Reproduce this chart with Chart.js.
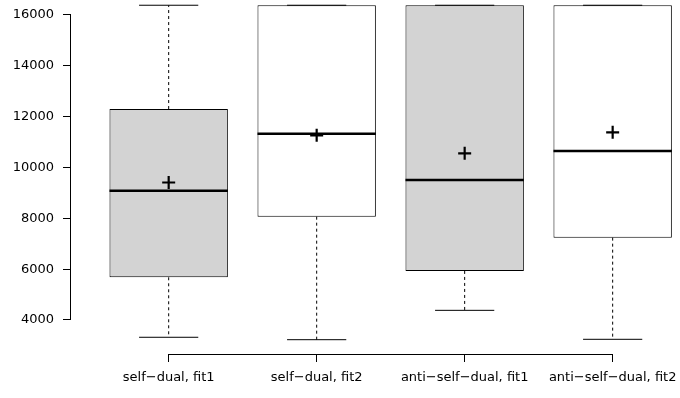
<!DOCTYPE html>
<html>
<head>
<meta charset="utf-8">
<script src="https://cdn.jsdelivr.net/npm/chart.js@4/dist/chart.umd.min.js"></script>
<style>
  html, body { margin: 0; padding: 0; background: #fff; }
  #wrap { width: 680px; height: 398px; }
</style>
</head>
<body>
<div id="wrap"><canvas id="c" width="680" height="398"></canvas></div>
<script>
// Groups and their five-number summaries plus means
const categories = ['self\u2212dual, fit1', 'self\u2212dual, fit2', 'anti\u2212self\u2212dual, fit1', 'anti\u2212self\u2212dual, fit2'];
const whiskerLow  = [3320, 3225, 4380, 3240];
const q1          = [5680, 8065, 5930, 7240];
const median      = [9087, 11330, 9508, 10649];
const q3          = [12300, 16384, 16384, 16384];
const whiskerHigh = [16384, 16384, 16384, 16384];
const means       = [9410, 11265, 10558, 11384];
const fills       = ['#d3d3d3', '#ffffff', '#d3d3d3', '#ffffff'];
const yTicks      = [4000, 6000, 8000, 10000, 12000, 14000, 16000];
const xTicks      = [1, 2, 3, 4];

const FONT = { family: '"DejaVu Sans", sans-serif', size: 13 };
const BOX_DATASET = 1;

// whiskers, staples and medians right after the boxes; mean crosses go on top
const boxExtras = {
  id: 'boxExtras',
  afterDatasetDraw(chart, args) {
    if (args.index !== BOX_DATASET) return;
    const ctx = chart.ctx;
    const xs = chart.scales.x, ys = chart.scales.y;
    const meta = args.meta;
    ctx.save();
    ctx.strokeStyle = '#000';
    categories.forEach((c, i) => {
      const bar = meta.data[i];
      const cx = xs.getPixelForValue(i + 1);
      const hw = bar.width / 2;
      const sw = hw / 2;
      // dashed whiskers
      ctx.lineWidth = 1;
      ctx.setLineDash([3, 3]);
      ctx.beginPath();
      ctx.moveTo(cx, ys.getPixelForValue(q3[i]));
      ctx.lineTo(cx, ys.getPixelForValue(whiskerHigh[i]));
      ctx.moveTo(cx, ys.getPixelForValue(q1[i]));
      ctx.lineTo(cx, ys.getPixelForValue(whiskerLow[i]));
      ctx.stroke();
      ctx.setLineDash([]);
      // staples
      ctx.beginPath();
      ctx.moveTo(cx - sw, ys.getPixelForValue(whiskerHigh[i]));
      ctx.lineTo(cx + sw, ys.getPixelForValue(whiskerHigh[i]));
      ctx.moveTo(cx - sw, ys.getPixelForValue(whiskerLow[i]));
      ctx.lineTo(cx + sw, ys.getPixelForValue(whiskerLow[i]));
      ctx.stroke();
      // median
      ctx.lineWidth = 2.6;
      ctx.beginPath();
      ctx.moveTo(cx - hw, ys.getPixelForValue(median[i]));
      ctx.lineTo(cx + hw, ys.getPixelForValue(median[i]));
      ctx.stroke();
    });
    ctx.restore();
  },
  // axis lines spanning only the ticked range
  afterDatasetsDraw(chart) {
    const ctx = chart.ctx;
    const xs = chart.scales.x, ys = chart.scales.y;
    const left = chart.chartArea.left, bottom = chart.chartArea.bottom;
    ctx.save();
    ctx.strokeStyle = '#000';
    ctx.lineWidth = 1;
    ctx.beginPath();
    ctx.moveTo(left - 0.5, ys.getPixelForValue(yTicks[0]));
    ctx.lineTo(left - 0.5, ys.getPixelForValue(yTicks[yTicks.length - 1]));
    ctx.moveTo(xs.getPixelForValue(xTicks[0]), bottom + 0.5);
    ctx.lineTo(xs.getPixelForValue(xTicks[xTicks.length - 1]), bottom + 0.5);
    ctx.stroke();
    ctx.restore();
  }
};

new Chart(document.getElementById('c'), {
  type: 'bar',
  data: {
    datasets: [
      {
        type: 'scatter',
        order: 0,
        data: categories.map((c, i) => ({ x: i + 1, y: means[i] })),
        pointStyle: 'cross',
        pointRadius: 6.5,
        pointBorderColor: '#000',
        pointBorderWidth: 2.2,
        pointBackgroundColor: '#000',
        borderColor: '#000',
        showLine: false
      },
      {
        type: 'bar',
        order: 1,
        data: categories.map((c, i) => ({ x: i + 1, y: [q1[i], q3[i]] })),
        backgroundColor: fills,
        borderColor: '#000',
        borderWidth: 1,
        borderSkipped: false,
        barPercentage: 0.8,
        categoryPercentage: 1.0,
        clip: false
      }
    ]
  },
  options: {
    responsive: false,
    animation: false,
    devicePixelRatio: 1,
    layout: { padding: 0, autoPadding: false },
    plugins: { legend: { display: false }, tooltip: { enabled: false } },
    scales: {
      x: {
        type: 'linear',
        min: 0.34,
        max: 4.455,
        offset: false,
        grid: { display: true, offset: false, drawOnChartArea: false, drawTicks: true, tickLength: 8, color: '#000' },
        border: { display: false },
        afterBuildTicks: s => { s.ticks = xTicks.map(v => ({ value: v })); },
        afterFit: s => { s.height = 44; s.paddingLeft = 0; s.paddingRight = 0; },
        ticks: {
          autoSkip: false, maxRotation: 0, minRotation: 0,
          color: '#000', font: FONT, padding: 8,
          callback: v => categories[v - 1]
        }
      },
      y: {
        type: 'linear',
        min: 2662,
        max: 16590,
        grid: { display: true, drawOnChartArea: false, drawTicks: true, tickLength: 8, color: '#000' },
        border: { display: false },
        afterBuildTicks: s => { s.ticks = yTicks.map(v => ({ value: v })); },
        afterFit: s => { s.width = 71; s.paddingTop = 0; s.paddingBottom = 0; },
        ticks: { color: '#000', font: FONT, padding: 9, callback: v => String(v) }
      }
    }
  },
  plugins: [boxExtras]
});
</script>
</body>
</html>
